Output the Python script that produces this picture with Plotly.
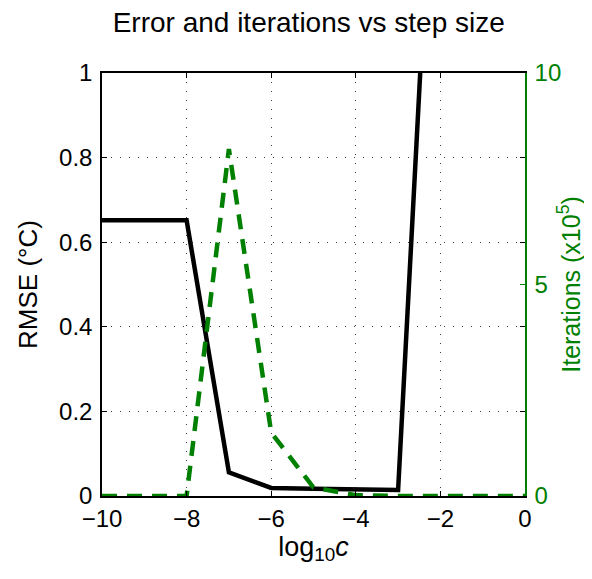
import plotly.graph_objects as go

log10c = [-10, -9, -8, -7, -6, -5, -4, -3, -2]
rmse = [0.652, 0.652, 0.652, 0.056, 0.019, 0.017, 0.015, 0.014, 1.9]
iter_x = [-10, -9, -8, -7, -6, -5, -4, -3, -2, -1, 0]
iterations = [0, 0, 0, 8.2, 1.5, 0.2, 0.02, 0, 0, 0, 0]

GREEN = "rgb(0,128,0)"
FONT = "Liberation Sans, Arial, sans-serif"
GRID = "rgba(0,0,0,0.75)"

fig = go.Figure()
fig.add_trace(go.Scatter(x=log10c, y=rmse, mode="lines",
                         line=dict(color="black", width=4.5), showlegend=False))
fig.add_trace(go.Scatter(x=iter_x, y=iterations, mode="lines", yaxis="y2",
                         line=dict(color=GREEN, width=4.5, dash="15px,10px"), showlegend=False))

fig.update_layout(
    width=592, height=579,
    margin=dict(l=94, r=75, t=65, b=91),
    paper_bgcolor="white", plot_bgcolor="white",
    font=dict(family=FONT, size=24, color="black"),
    title=dict(text="Error and iterations vs step size", x=0.508, xanchor="center",
               yref="container", y=0.976, yanchor="middle", font=dict(size=28)),
    xaxis=dict(range=[-10, 0], dtick=2, tick0=-10, showline=True, linecolor="black",
               linewidth=1.5, mirror="ticks", ticks="inside", ticklen=5, tickcolor="black",
               showgrid=True, gridcolor=GRID, griddash="1px,8px", gridwidth=1.3,
               zeroline=False,
               title=dict(text="log<sub>10</sub><i>c</i>", font=dict(size=27), standoff=6)),
    yaxis=dict(range=[0, 1], dtick=0.2, showline=True, linecolor="black", linewidth=1.5,
               mirror="ticks", ticks="inside", ticklen=5, tickcolor="black",
               showgrid=True, gridcolor=GRID, griddash="1px,8px", gridwidth=1.3,
               zeroline=False, ticklabelstandoff=3,
               title=dict(text="RMSE (°C)", font=dict(size=26), standoff=14)),
    yaxis2=dict(range=[0, 10], tickvals=[0, 5, 10], overlaying="y", side="right",
                showline=True, linecolor=GREEN, linewidth=1.5, ticks="inside", ticklen=5,
                tickcolor=GREEN, tickfont=dict(color=GREEN), showgrid=False, zeroline=False,
                ticklabelstandoff=3,
                title=dict(text="Iterations (x10<sup>5</sup>)", font=dict(size=25, color=GREEN),
                           standoff=2)),
)

fig.write_html("out.html")
